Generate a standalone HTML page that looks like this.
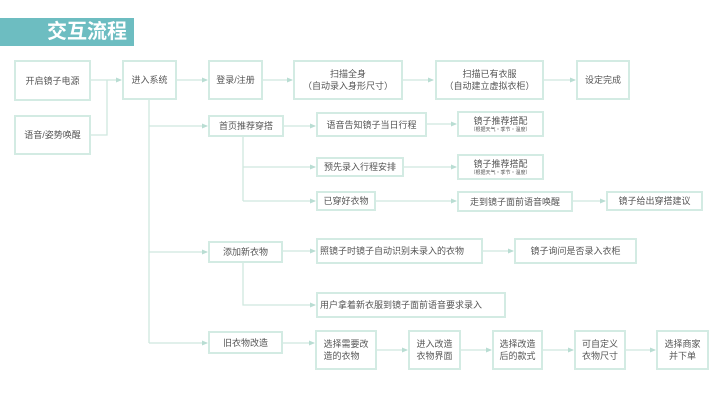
<!DOCTYPE html>
<html><head><meta charset="utf-8"><style>
body{margin:0;width:720px;height:405px;background:#fff;position:relative;overflow:hidden;font-family:"Liberation Sans","Noto Sans CJK SC",sans-serif;}
.t{position:absolute;left:0;top:18px;width:134px;height:28px;background:#6dbdc1;}
.t span{position:absolute;left:47px;top:1px;color:#fff;font-size:20px;font-weight:bold;line-height:26px;white-space:nowrap;}
.b{position:absolute;box-sizing:border-box;border:2px solid #d3ebe3;display:flex;align-items:center;justify-content:center;text-align:center;font-size:9px;line-height:12px;color:#555;background:#fff;}
.b small{font-size:5px;line-height:7px;display:block;}
svg{position:absolute;left:0;top:0;}
</style></head><body>
<div class="t"><span>交互流程</span></div>
<svg width="720" height="405">
<defs><marker id="a" markerWidth="6" markerHeight="6" refX="5" refY="3" orient="auto" markerUnits="userSpaceOnUse"><path d="M0,0.5 L6,3 L0,5.5z" fill="#b9ddd3"/></marker></defs>
<g stroke="#cfe8df" stroke-width="1.3" fill="none">
<path d="M91,80H107M91,135H107V80H107" /><path d="M107,80H121" marker-end="url(#a)"/>
<path d="M177,80H207" marker-end="url(#a)"/>
<path d="M263,80H292" marker-end="url(#a)"/>
<path d="M403,80H433" marker-end="url(#a)"/>
<path d="M544,80H575" marker-end="url(#a)"/>
<path d="M149,100V343"/>
<path d="M149,126H207" marker-end="url(#a)"/>
<path d="M149,252H207" marker-end="url(#a)"/>
<path d="M149,343H207" marker-end="url(#a)"/>
<path d="M284,126H315" marker-end="url(#a)"/>
<path d="M243,137V201"/>
<path d="M243,167H315" marker-end="url(#a)"/>
<path d="M243,201H315" marker-end="url(#a)"/>
<path d="M427,124H456" marker-end="url(#a)"/>
<path d="M404,167H456" marker-end="url(#a)"/>
<path d="M376,201H456" marker-end="url(#a)"/>
<path d="M573,201H605" marker-end="url(#a)"/>
<path d="M283,251H315" marker-end="url(#a)"/>
<path d="M243,263V305H315" marker-end="url(#a)"/>
<path d="M483,251H513" marker-end="url(#a)"/>
<path d="M283,343H314" marker-end="url(#a)"/>
<path d="M377,350H407" marker-end="url(#a)"/>
<path d="M461,350H491" marker-end="url(#a)"/>
<path d="M543,350H573" marker-end="url(#a)"/>
<path d="M626,350H655" marker-end="url(#a)"/>
</g></svg>
<div class="b" style="left:14px;top:60px;width:77px;height:41px">开启镜子电源</div>
<div class="b" style="left:14px;top:115px;width:77px;height:40px">语音/姿势唤醒</div>
<div class="b" style="left:122px;top:60px;width:55px;height:40px">进入系统</div>
<div class="b" style="left:208px;top:60px;width:55px;height:40px">登录/注册</div>
<div class="b" style="left:293px;top:60px;width:110px;height:40px;border-width:2.5px">扫描全身<br>（自动录入身形尺寸）</div>
<div class="b" style="left:435px;top:60px;width:109px;height:40px;border-width:2.5px">扫描已有衣服<br>（自动建立虚拟衣柜）</div>
<div class="b" style="left:576px;top:60px;width:54px;height:40px">设定完成</div>
<div class="b" style="left:208px;top:115px;width:76px;height:22px">首页推荐穿搭</div>
<div class="b" style="left:316px;top:112px;width:111px;height:25px">语音告知镜子当日行程</div>
<div class="b" style="left:457px;top:111px;width:87px;height:26px"><div>镜子推荐搭配<small>（根据天气・季节・温度）</small></div></div>
<div class="b" style="left:316px;top:157px;width:88px;height:20px">预先录入行程安排</div>
<div class="b" style="left:457px;top:154px;width:87px;height:26px"><div>镜子推荐搭配<small>（根据天气・季节・温度）</small></div></div>
<div class="b" style="left:316px;top:191px;width:60px;height:20px">已穿好衣物</div>
<div class="b" style="left:457px;top:191px;width:116px;height:21px">走到镜子面前语音唤醒</div>
<div class="b" style="left:606px;top:191px;width:97px;height:20px">镜子给出穿搭建议</div>
<div class="b" style="left:208px;top:241px;width:75px;height:22px">添加新衣物</div>
<div class="b" style="left:316px;top:238px;width:167px;height:26px;justify-content:flex-start;padding-left:2px">照镜子时镜子自动识别未录入的衣物</div>
<div class="b" style="left:514px;top:238px;width:123px;height:26px">镜子询问是否录入衣柜</div>
<div class="b" style="left:316px;top:292px;width:190px;height:26px;justify-content:flex-start;padding-left:2px">用户拿着新衣服到镜子面前语音要求录入</div>
<div class="b" style="left:208px;top:331px;width:75px;height:23px">旧衣物改造</div>
<div class="b" style="left:315px;top:330px;width:62px;height:40px;text-align:left">选择需要改<br>造的衣物</div>
<div class="b" style="left:408px;top:330px;width:53px;height:40px">进入改造<br>衣物界面</div>
<div class="b" style="left:492px;top:330px;width:51px;height:40px">选择改造<br>后的款式</div>
<div class="b" style="left:574px;top:330px;width:52px;height:40px">可自定义<br>衣物尺寸</div>
<div class="b" style="left:656px;top:330px;width:53px;height:40px">选择商家<br>并下单</div>
</body></html>
